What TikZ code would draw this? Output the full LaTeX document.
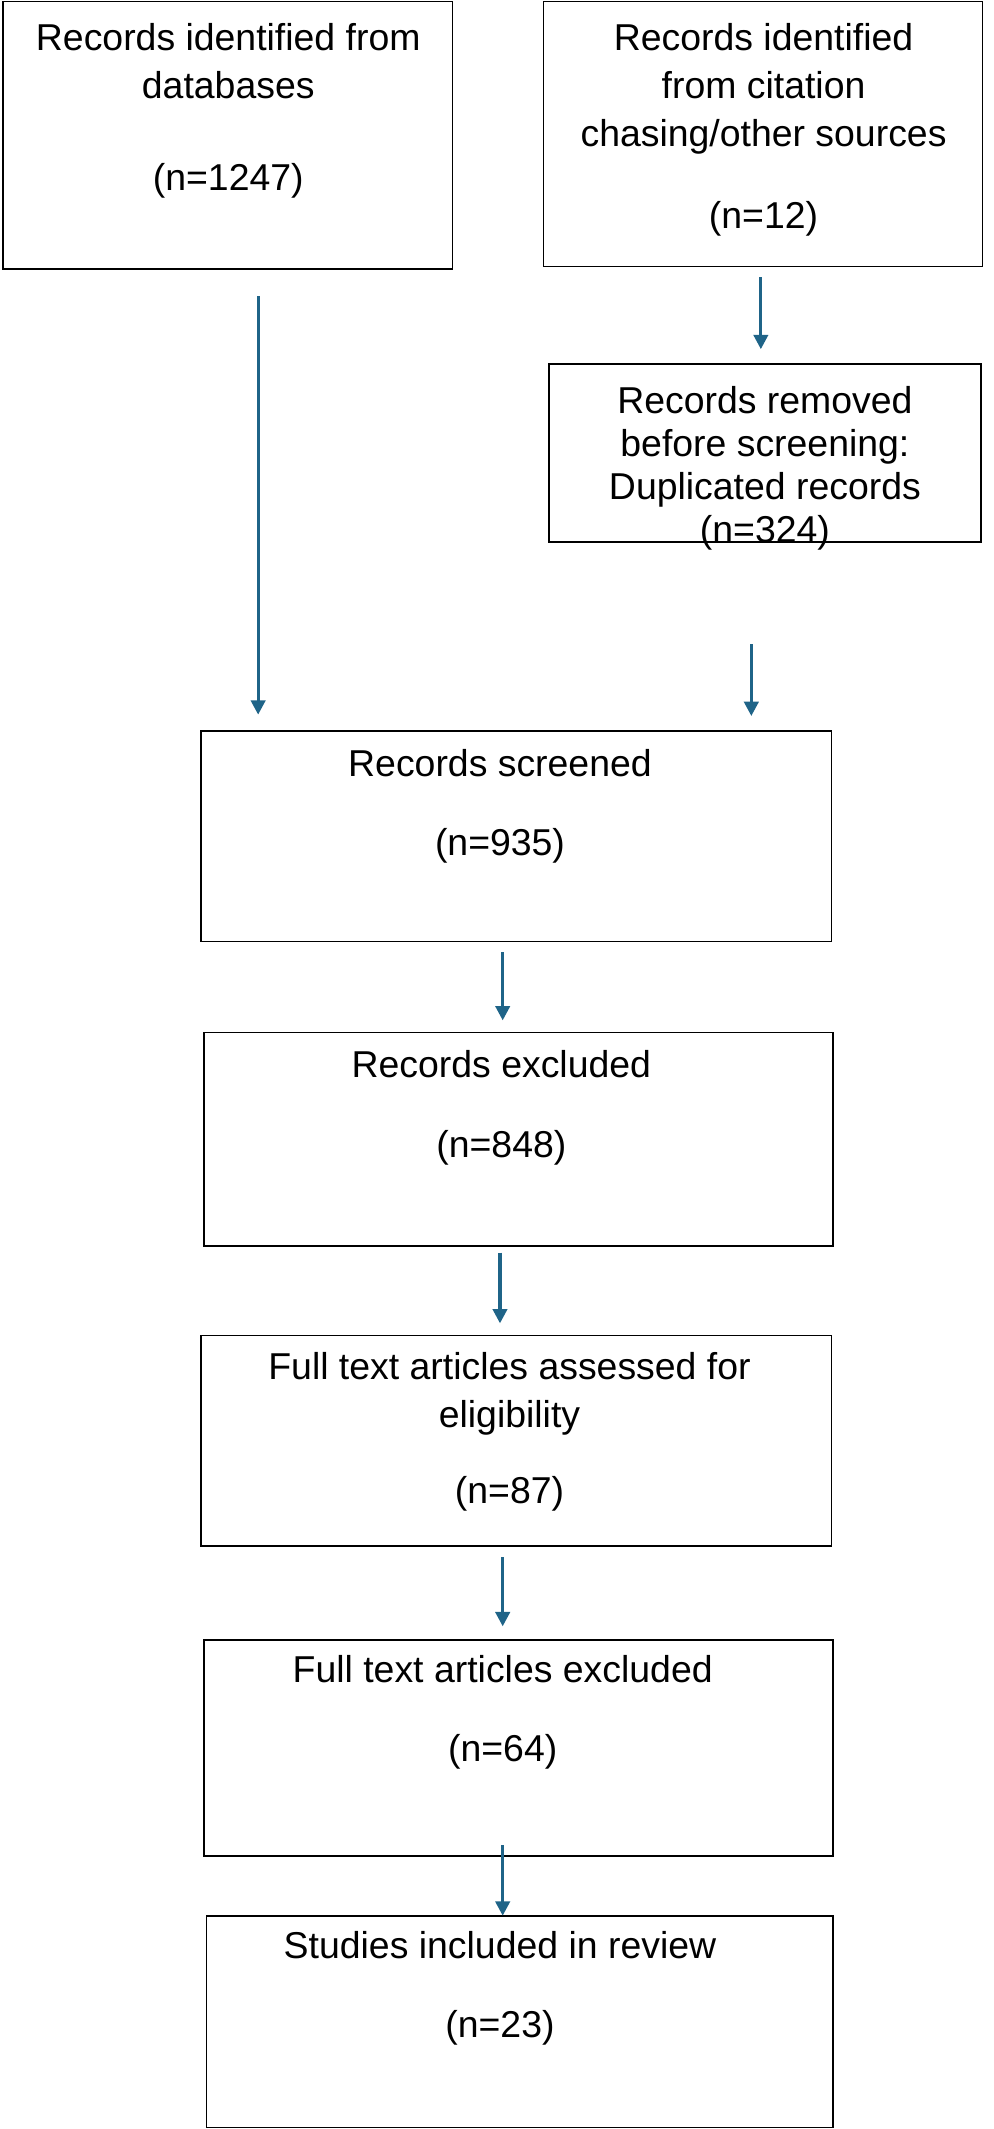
\documentclass[tikz,border=0pt]{standalone}
\usepackage{fontspec}
\setmainfont{Liberation Sans}
\usetikzlibrary{arrows.meta}
\begin{document}
\begin{tikzpicture}[x=0.3mm,y=-0.3mm,
 box/.style={draw,line width=1pt,inner sep=0pt},
 txt/.style={anchor=north,align=center,font=\fontsize{23.5}{30}\selectfont,inner sep=0pt},
 arr/.style={draw=arrcol,line width=2pt,-{Triangle[length=9pt,width=9pt]}}]
\definecolor{arrcol}{HTML}{1F6488}
\useasboundingbox (0,0) rectangle (731,1567);
\newcommand{\bx}[5]{\node[box,minimum width={(#4-#2)*0.3mm},minimum height={(#5-#3)*0.3mm}] (#1) at ({(#2+#4)/2},{(#3+#5)/2}) {};}
\bx{b1}{2}{1}{333}{198}
\bx{b2}{400}{1}{723}{196}
\bx{b3}{404}{268}{722}{399}
\bx{b4}{148}{538}{612}{693}
\bx{b5}{150}{760}{613}{917}
\bx{b6}{148}{983}{612}{1138}
\bx{b7}{150}{1207}{613}{1366}
\bx{b8}{152}{1410}{613}{1566}
\node[txt] (t1) at (168,17) {Records identified from\\databases\\[28pt](n=1247)};
\node[txt] (t2) at (562,17) {Records identified\\from citation\\chasing/other sources\\[22pt](n=12)};
\node[txt,font=\fontsize{23.5}{27}\selectfont] (t3) at (563,284) {Records removed\\before screening:\\Duplicated records\\(n=324)};
\node[txt] (t4) at (368,551) {Records screened\\[20pt](n=935)};
\node[txt] (t5) at (369,773) {Records excluded\\[20pt](n=848)};
\node[txt] (t6) at (375,995) {Full text articles assessed for\\eligibility\\[18pt](n=87)};
\node[txt] (t7) at (370,1218) {Full text articles excluded\\[20pt](n=64)};
\node[txt] (t8) at (368,1421) {Studies included in review\\[20pt](n=23)};
\coordinate (a1s) at (190,218); \coordinate (a1e) at (190,526);
\coordinate (a2s) at (560,204); \coordinate (a2e) at (560,257);
\coordinate (a3s) at (553,474); \coordinate (a3e) at (553,527);
\draw[arr] (a1s) -- (a1e);
\draw[arr] (a2s) -- (a2e);
\draw[arr] (a3s) -- (a3e);
\draw[arr] (370,701) -- (370,751);
\draw[arr] (368,922) -- (368,974);
\draw[arr] (370,1146) -- (370,1197);
\draw[arr] (370,1358) -- (370,1410);
\end{tikzpicture}
\end{document}
